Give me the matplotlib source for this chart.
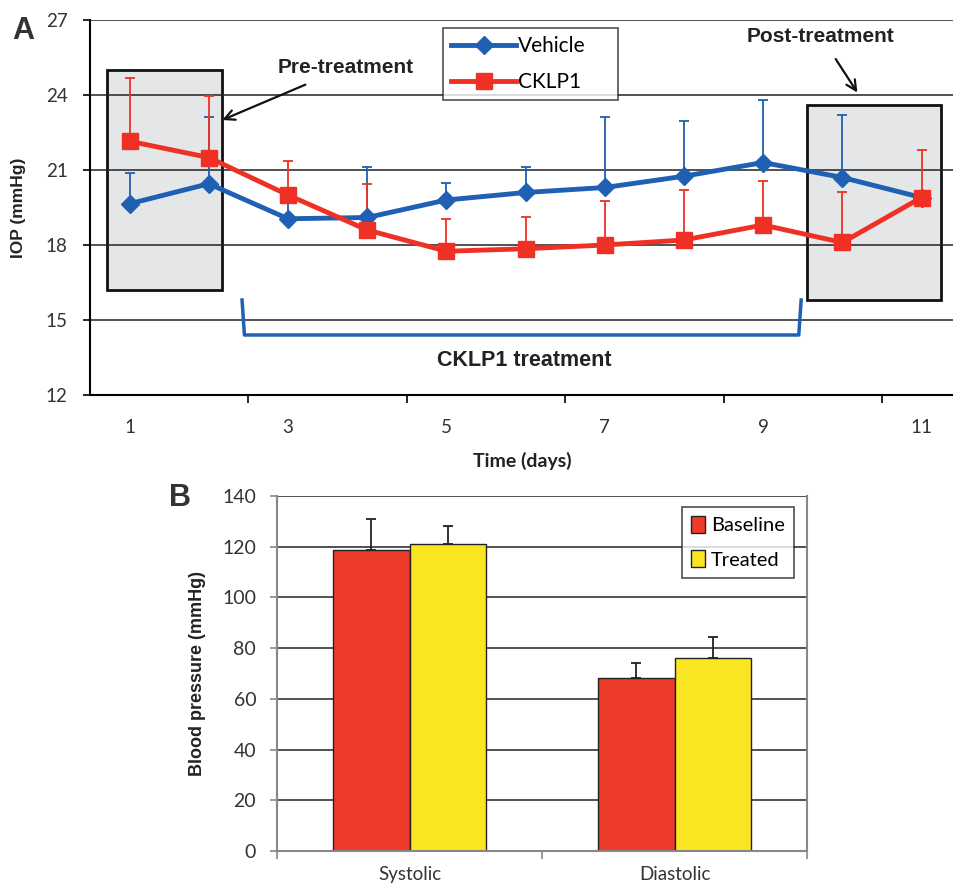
import matplotlib.pyplot as plt
import matplotlib.patches as patches
import numpy as np

# panel A data
days = np.arange(1, 12)
vehicle = [19.65, 20.45, 19.05, 19.1, 19.8, 20.1, 20.3, 20.75, 21.3, 20.7, 19.9]
vehicle_up = [20.9, 23.1, 19.9, 21.1, 20.5, 21.1, 23.1, 22.95, 23.8, 23.2, 19.9]
cklp1 = [22.15, 21.5, 20.0, 18.6, 17.75, 17.85, 18.0, 18.2, 18.8, 18.1, 19.9]
cklp1_up = [24.7, 23.95, 21.35, 20.45, 19.05, 19.1, 19.75, 20.2, 20.55, 20.1, 21.8]
xlabels = ['1', '3', '5', '7', '9', '11']

# panel B data
groups = ['Systolic', 'Diastolic']
baseline = [118.8, 68.2]
baseline_up = [130.8, 74.1]
treated = [121.2, 76.1]
treated_up = [128.3, 84.2]

blue = '#1F5FB4'
red = '#EE3124'
bar_red = '#EE3A28'
bar_yel = '#F9E521'
tickfont = ['Lato', 'DejaVu Sans']
boldfont = ['Liberation Sans', 'DejaVu Sans']

fig = plt.figure(figsize=(9.54, 8.88), dpi=100)

# ---------------- A ----------------
ax = fig.add_axes([90/954, 1-395/888, 864/954, 375/888])
ax.set_xlim(0.5, 11.41)
ax.set_ylim(12, 27)
ax.set_yticks(np.arange(12, 28, 3))
ax.set_xticks(days[::2])
ax.set_xticklabels(xlabels)
ax.set_xticks(np.arange(2.5, 11, 2), minor=True)
ax.tick_params(axis='x', which='major', length=0, pad=17)
ax.tick_params(axis='x', which='minor', length=6, width=1.2, direction='out')
ax.tick_params(axis='y', length=5, width=1.2, direction='out', pad=11)
for lab in ax.get_xticklabels() + ax.get_yticklabels():
    lab.set_family(tickfont)
    lab.set_fontsize(13.5)
    lab.set_color('#333333')
ax.set_axisbelow(True)
ax.grid(axis='y', color='#222222', lw=1.1)
for s in ['top', 'right']:
    ax.spines[s].set_visible(False)
ax.spines['left'].set_linewidth(1.5)
ax.spines['bottom'].set_linewidth(1.5)

ax.add_patch(patches.Rectangle((0.71, 16.2), 1.46, 8.8, facecolor='#E5E6E8',
                               edgecolor='#111111', lw=2, zorder=0.2))
ax.add_patch(patches.Rectangle((9.56, 15.8), 1.69, 7.8, facecolor='#E5E6E8',
                               edgecolor='#111111', lw=2, zorder=0.2))

v = np.array(vehicle)
c = np.array(cklp1)
ax.errorbar(days, v, yerr=[np.zeros(11), np.array(vehicle_up) - v], fmt='none',
            ecolor=blue, elinewidth=1.3, capsize=3.5, capthick=1.3, zorder=2)
ax.errorbar(days, c, yerr=[np.zeros(11), np.array(cklp1_up) - c], fmt='none',
            ecolor=red, elinewidth=1.3, capsize=3.5, capthick=1.3, zorder=2)
l1, = ax.plot(days, v, color=blue, lw=3.5, marker='D', ms=9, zorder=3, label='Vehicle')
l2, = ax.plot(days, c, color=red, lw=3.5, marker='s', ms=12, zorder=4, label='CKLP1')

# treatment bracket
ax.plot([2.42, 2.45, 9.45, 9.48], [15.8, 14.4, 14.4, 15.8], color=blue, lw=2.5,
        solid_joinstyle='round', zorder=2)
ax.text(5.98, 13.4, 'CKLP1 treatment', ha='center', va='center', fontsize=15.5,
        fontweight='bold', family=boldfont, color='#222222')
ax.annotate('Pre-treatment', xy=(2.17, 23.0), xytext=(3.73, 25.1), ha='center',
            va='center', fontsize=15, fontweight='bold', family=boldfont,
            color='#222222',
            arrowprops=dict(arrowstyle='->', color='#111111', lw=1.6,
                            shrinkA=9, shrinkB=0, mutation_scale=18))
ax.annotate('Post-treatment', xy=(10.19, 24.1), xytext=(9.73, 26.35), ha='center',
            va='center', fontsize=15, fontweight='bold', family=boldfont,
            color='#222222',
            arrowprops=dict(arrowstyle='->', color='#111111', lw=1.6,
                            shrinkA=9, shrinkB=0, mutation_scale=18))

leg = ax.legend(handles=[l1, l2], loc='upper left',
                bbox_to_anchor=(0.4086, 0.979, 0.2025, 0.0), mode='expand',
                borderaxespad=0, frameon=True, fancybox=False, edgecolor='#222222',
                prop={'family': tickfont, 'size': 15}, handlelength=3.1,
                handletextpad=0.1, borderpad=0.4, labelspacing=0.75)
leg.get_frame().set_linewidth(1.2)
leg.set_zorder(5)

ax.set_ylabel('IOP (mmHg)', fontsize=12.5, fontweight='bold', family=boldfont,
              labelpad=14, color='#222222')
ax.set_xlabel('Time (days)', fontsize=14, fontweight='bold',
              family=tickfont, labelpad=12, color='#222222')
fig.text(12/954, 1-31/888, 'A', fontsize=22, fontweight='bold', family=boldfont,
         color='#333333', va='center')

# ---------------- B ----------------
bx = fig.add_axes([277/954, 1-851/888, 530/954, 355/888])
xpos = np.arange(len(groups))
w = 0.29
b = np.array(baseline)
t = np.array(treated)
bx.bar(xpos - w/2, b, w, color=bar_red, edgecolor='#222222', lw=1, label='Baseline',
       yerr=[np.zeros(2), np.array(baseline_up) - b], capsize=3.5,
       error_kw=dict(ecolor='#222222', elinewidth=1.3, capthick=1.3), zorder=2)
bx.bar(xpos + w/2, t, w, color=bar_yel, edgecolor='#222222', lw=1, label='Treated',
       yerr=[np.zeros(2), np.array(treated_up) - t], capsize=3.5,
       error_kw=dict(ecolor='#222222', elinewidth=1.3, capthick=1.3), zorder=2)
bx.set_xlim(-0.5, 1.5)
bx.set_ylim(0, 140)
bx.set_yticks(np.arange(0, 141, 20))
bx.set_xticks(xpos)
bx.set_xticklabels(groups)
bx.set_xticks([-0.5, 0.5, 1.5], minor=True)
bx.tick_params(axis='x', which='major', length=0, pad=11)
bx.tick_params(axis='x', which='minor', length=6, width=1.2, color='#888888')
bx.tick_params(axis='y', length=5, width=1.2, color='#888888', pad=10)
for lab in bx.get_yticklabels():
    lab.set_family(tickfont)
    lab.set_fontsize(14)
    lab.set_color('#333333')
for lab in bx.get_xticklabels():
    lab.set_family(tickfont)
    lab.set_fontsize(13.5)
    lab.set_color('#333333')
bx.set_axisbelow(True)
bx.grid(axis='y', color='#222222', lw=1.1)
bx.spines['top'].set_visible(False)
for s in ['left', 'right', 'bottom']:
    bx.spines[s].set_color('#888888')
    bx.spines[s].set_linewidth(1.5)
bx.set_ylabel('Blood pressure (mmHg)', fontsize=13, fontweight='bold',
              family=boldfont, labelpad=12, color='#222222')
lg = bx.legend(loc='upper left', bbox_to_anchor=(0.764, 0.969), borderaxespad=0,
               frameon=True, fancybox=False, edgecolor='#222222',
               prop={'family': tickfont, 'size': 14.5}, handlelength=0.7,
               handleheight=0.9, handletextpad=0.3, borderpad=0.45, labelspacing=0.8)
lg.get_frame().set_linewidth(1.2)
fig.text(169/954, 1-498/888, 'B', fontsize=22, fontweight='bold', family=boldfont,
         color='#333333', va='center')

fig.savefig('out.png', dpi=100)
